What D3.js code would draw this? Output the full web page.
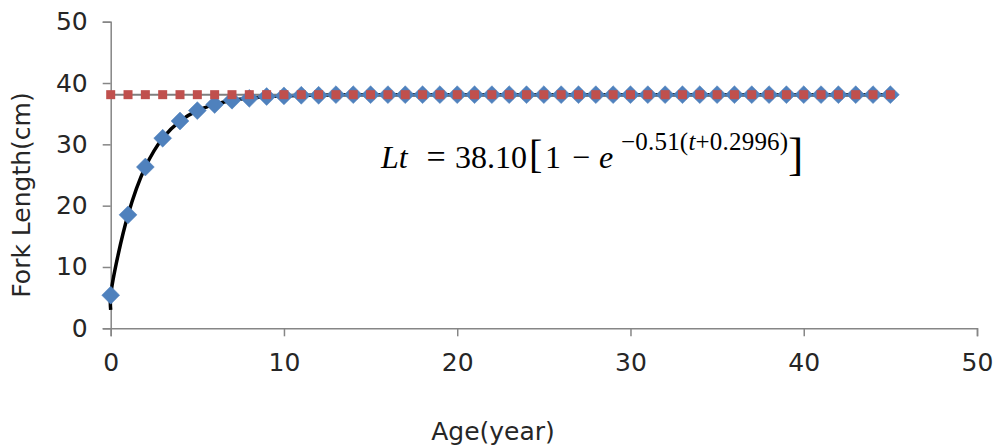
<!DOCTYPE html>
<html>
<head>
<meta charset="utf-8">
<script src="https://cdn.jsdelivr.net/npm/d3@7"></script>
<style>
  body { margin: 0; background: #fff; }
  svg { display: block; }
</style>
</head>
<body>
<div id="chart"></div>
<script>
// ages 0..45
var ages = d3.range(0, 46);

// fork length at age (blue diamonds)
var lengths = [5.4, 18.5, 26.3, 31.0, 33.8, 35.5, 36.5, 37.2, 37.5, 37.8,
  37.9, 38.0, 38.0, 38.1, 38.1, 38.1, 38.1, 38.1, 38.1, 38.1,
  38.1, 38.1, 38.1, 38.1, 38.1, 38.1, 38.1, 38.1, 38.1, 38.1,
  38.1, 38.1, 38.1, 38.1, 38.1, 38.1, 38.1, 38.1, 38.1, 38.1,
  38.1, 38.1, 38.1, 38.1, 38.1, 38.1];

// asymptotic length L-infinity (red squares)
var lInf = [38.1, 38.1, 38.1, 38.1, 38.1, 38.1, 38.1, 38.1, 38.1, 38.1,
  38.1, 38.1, 38.1, 38.1, 38.1, 38.1, 38.1, 38.1, 38.1, 38.1,
  38.1, 38.1, 38.1, 38.1, 38.1, 38.1, 38.1, 38.1, 38.1, 38.1,
  38.1, 38.1, 38.1, 38.1, 38.1, 38.1, 38.1, 38.1, 38.1, 38.1,
  38.1, 38.1, 38.1, 38.1, 38.1, 38.1];

// smoothed black curve: starts a bit below the first diamond
var curveX = [0].concat(ages);
var curveY = [3.0].concat(lengths);

var xTicks = [0, 10, 20, 30, 40, 50];
var yTicks = [0, 10, 20, 30, 40, 50];

var width = 997, height = 446;

var svg = d3.select('#chart')
  .append('svg')
    .attr('width', width)
    .attr('height', height);

var x = d3.scaleLinear().domain([0, 50]).range([110.7, 977]);
var y = d3.scaleLinear().domain([0, 50]).range([328.3, 21.7]);

var axisColor = '#868686';
var font = '"DejaVu Sans", sans-serif';
var textColor = '#262626';

// y axis
var yAxis = svg.append('g')
  .attr('transform', 'translate(' + x(0) + ',0)')
  .call(d3.axisLeft(y).tickValues(yTicks).tickSize(8).tickPadding(15));
// x axis
var xAxis = svg.append('g')
  .attr('transform', 'translate(0,' + y(0) + ')')
  .call(d3.axisBottom(x).tickValues(xTicks).tickSize(8).tickPadding(17));

[xAxis, yAxis].forEach(function(a) {
  a.select('.domain').attr('stroke', axisColor).attr('stroke-width', 1.5);
  a.selectAll('.tick line').attr('stroke', axisColor).attr('stroke-width', 1.5);
  a.selectAll('.tick text')
    .attr('fill', textColor)
    .attr('font-family', font)
    .attr('font-size', '25px');
});

// axis titles
svg.append('text')
  .text('Age(year)')
  .attr('x', 493)
  .attr('y', 440)
  .attr('text-anchor', 'middle')
  .attr('font-family', font)
  .attr('font-size', '25px')
  .attr('fill', textColor);

svg.append('text')
  .text('Fork Length(cm)')
  .attr('transform', 'translate(30,195) rotate(-90)')
  .attr('text-anchor', 'middle')
  .attr('font-family', font)
  .attr('font-size', '25px')
  .attr('fill', textColor);

// black smoothed curve
var curvePts = curveX.map(function(d, i) { return [d, curveY[i]]; });
svg.append('path')
  .datum(curvePts)
  .attr('fill', 'none')
  .attr('stroke', '#000')
  .attr('stroke-width', 3.5)
  .attr('d', d3.line()
    .x(function(d) { return x(d[0]); })
    .y(function(d) { return y(d[1]); })
    .curve(d3.curveCatmullRom.alpha(0.5)));

// gray line through the L-infinity series
var infPts = ages.map(function(d, i) { return [d, lInf[i]]; });
svg.append('path')
  .datum(infPts)
  .attr('fill', 'none')
  .attr('stroke', '#7f7f7f')
  .attr('stroke-width', 2)
  .attr('d', d3.line()
    .x(function(d) { return x(d[0]); })
    .y(function(d) { return y(d[1]); }));

// blue diamonds
var diamond = d3.symbol().type(d3.symbolSquare).size(160);
svg.append('g')
  .selectAll('path')
  .data(ages.map(function(d, i) { return [d, lengths[i]]; }))
  .enter().append('path')
    .attr('d', diamond)
    .attr('transform', function(d) {
      return 'translate(' + x(d[0]) + ',' + y(d[1]) + ') rotate(45)';
    })
    .attr('fill', '#4f81bd')
    .attr('stroke', '#4f81bd')
    .attr('stroke-width', 0.5);

// red squares
svg.append('g')
  .selectAll('rect')
  .data(infPts)
  .enter().append('rect')
    .attr('x', function(d) { return x(d[0]) - 4.5; })
    .attr('y', function(d) { return y(d[1]) - 4.5; })
    .attr('width', 9)
    .attr('height', 9)
    .attr('fill', '#c0504d');

// equation, placed piece by piece like the math layout
var serif = '"Liberation Serif", "DejaVu Serif", serif';
var eq = svg.append('g')
  .attr('font-family', serif)
  .attr('fill', '#000');

function eqText(str, px, py, size, italic, anchor) {
  return eq.append('text')
    .text(str)
    .attr('x', px)
    .attr('y', py)
    .attr('font-size', size + 'px')
    .attr('font-style', italic ? 'italic' : 'normal')
    .attr('text-anchor', anchor || 'start');
}

eqText('Lt', 381, 168, 32, true);
eqText('=', 436, 168, 34, false, 'middle');
eqText('38.10', 455, 168, 32, false);
eqText('[', 529, 168, 40, false);
eqText('1', 545, 168, 32, false);
eqText('\u2212', 581, 168, 32, false, 'middle');
eqText('e', 599, 168, 32, true);

var sup = eq.append('text')
  .attr('x', 621)
  .attr('y', 150)
  .attr('font-size', '25px')
  .attr('letter-spacing', '0.2px');
sup.append('tspan').text('\u22120.51(');
sup.append('tspan').attr('font-style', 'italic').text('t');
sup.append('tspan').text('+0.2996)');

eqText(']', 788, 170, 46, false);
</script>
</body>
</html>
